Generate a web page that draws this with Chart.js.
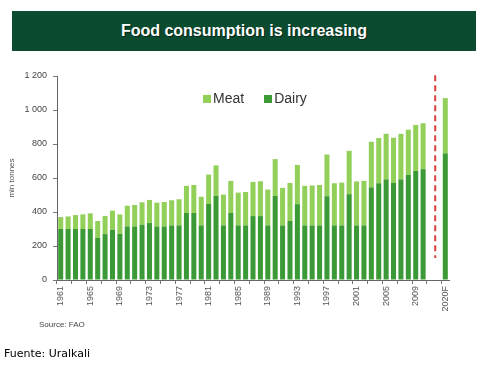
<!DOCTYPE html>
<html>
<head>
<meta charset="utf-8">
<script src="https://cdn.jsdelivr.net/npm/chart.js@4"></script>
<style>
  html, body { margin: 0; padding: 0; background: #fff; }
  body { width: 483px; height: 369px; position: relative; overflow: hidden; font-family: "Liberation Sans", Arial, sans-serif; }
  #wrap { position: absolute; left: 0; top: 0; width: 483px; height: 369px; }
  .title-box {
    position: absolute; left: 12px; top: 11px; width: 464px; height: 40px;
    background: #0b4b2f; color: #fff; font-weight: bold; font-size: 16px;
    line-height: 40px; text-align: center; text-shadow: 1px 1px 1px rgba(0,0,0,0.5);
  }
  #legend { position: absolute; left: 203px; top: 89px; height: 18px; font-size: 14px; color: #333; white-space: nowrap; }
  #legend .item { display: inline-block; margin-right: 20px; line-height: 18px; }
  #legend .box { display: inline-block; width: 8px; height: 8px; margin-right: 2px; vertical-align: 0px; }
  .src { position: absolute; left: 39px; top: 320px; font-size: 8px; color: #444; }
  .fuente { position: absolute; left: 4px; top: 347px; font-family: "DejaVu Sans", Verdana, sans-serif; font-size: 11px; color: #000; }
</style>
</head>
<body>
<div id="wrap"><canvas id="foodChart" width="483" height="369"></canvas></div>
<div class="title-box">Food consumption is increasing</div>
<div id="legend"></div>
<div class="src">Source: FAO</div>
<div class="fuente">Fuente: Uralkali</div>
<script>
// categories (two empty slots before the forecast)
var categories = ['1961','1962','1963','1964','1965','1966','1967','1968','1969','1970',
  '1971','1972','1973','1974','1975','1976','1977','1978','1979','1980',
  '1981','1982','1983','1984','1985','1986','1987','1988','1989','1990',
  '1991','1992','1993','1994','1995','1996','1997','1998','1999','2000',
  '2001','2002','2003','2004','2005','2006','2007','2008','2009','2010',
  '', '', '2020F'];

// mln tonnes
var dairyData = [300,300,300,300,300,248,270,296,272,315,
  315,325,335,315,315,321,321,394,394,321,
  447,494,321,394,321,321,376,376,321,494,
  321,347,446,321,321,321,493,321,321,505,
  321,321,545,569,592,571,592,618,642,652,
  null, null, 745];

var meatData = [70,74,82,86,92,99,106,112,114,122,
  126,132,136,140,144,148,154,160,165,169,
  173,180,181,189,193,197,201,205,211,217,
  221,224,231,233,235,238,245,248,252,255,
  259,262,268,266,268,266,268,266,270,270,
  null, null, 325];

var yTicks = [0, 200, 400, 600, 800, 1000, 1200];

var colorDairy = '#3b9a36';
var colorMeat = '#92d05a';

// dashed separator between history and forecast
var dividerPlugin = {
  id: 'divider',
  afterDatasetsDraw: function(chart) {
    var xs = chart.scales.x, ys = chart.scales.y;
    var x = (xs.getPixelForValue(50) + xs.getPixelForValue(51)) / 2 + 1;
    var ctx = chart.ctx;
    ctx.save();
    ctx.strokeStyle = '#d9413c';
    ctx.lineWidth = 2;
    ctx.setLineDash([6, 4]);
    ctx.beginPath();
    ctx.moveTo(x, ys.getPixelForValue(1205));
    ctx.lineTo(x, ys.getPixelForValue(130));
    ctx.stroke();
    ctx.restore();
  }
};

var ctx = document.getElementById('foodChart').getContext('2d');
var chart = new Chart(ctx, {
  type: 'bar',
  data: {
    labels: categories,
    datasets: [
      { label: 'Dairy', data: dairyData, backgroundColor: colorDairy, barPercentage: 0.68, categoryPercentage: 1 },
      { label: 'Meat', data: meatData, backgroundColor: colorMeat, barPercentage: 0.68, categoryPercentage: 1 }
    ]
  },
  options: {
    responsive: false,
    animation: false,
    layout: { padding: { left: 3, right: 34, top: 76, bottom: 49 } },
    plugins: {
      tooltip: { enabled: false },
      legend: { display: false }
    },
    scales: {
      x: {
        stacked: true,
        afterFit: function(s) { s.height = 40; },
        grid: {
          drawOnChartArea: false, drawTicks: true, tickLength: 4,
          tickColor: function(c) { return c.index % 2 === 0 ? '#777' : 'rgba(0,0,0,0)'; }
        },
        border: { display: true, color: '#666', width: 1 },
        ticks: {
          autoSkip: false, minRotation: 90, maxRotation: 90, padding: 2,
          color: '#555',
          font: { family: '"Liberation Sans", Arial, sans-serif', size: 9 },
          callback: function(v, i) {
            if (i === 52) return categories[i];
            return (i < 50 && i % 4 === 0) ? categories[i] : '';
          }
        }
      },
      y: {
        stacked: true,
        min: 0, max: 1200,
        afterFit: function(s) { s.width = 54; },
        afterBuildTicks: function(s) { s.ticks = yTicks.map(function(v) { return { value: v }; }); },
        grid: { drawOnChartArea: false, drawTicks: true, tickLength: 4, tickColor: '#777' },
        border: { display: true, color: '#666', width: 1 },
        title: {
          display: true, text: 'mln tonnes', color: '#555',
          font: { family: '"Liberation Sans", Arial, sans-serif', size: 8 },
          padding: { top: 4, bottom: 0 }
        },
        ticks: {
          padding: 6, color: '#444',
          font: { family: '"Liberation Sans", Arial, sans-serif', size: 9 },
          callback: function(v) { return v >= 1000 ? Math.floor(v / 1000) + ' ' + String(v % 1000).padStart(3, '0') : String(v); }
        }
      }
    }
  },
  plugins: [dividerPlugin]
});

// legend: Meat first, then Dairy
var legendEl = document.getElementById('legend');
chart.data.datasets.slice().reverse().forEach(function(ds) {
  var item = document.createElement('span');
  item.className = 'item';
  item.innerHTML = '<span class="box" style="background:' + ds.backgroundColor + '"></span>' + ds.label;
  legendEl.appendChild(item);
});
</script>
</body>
</html>
